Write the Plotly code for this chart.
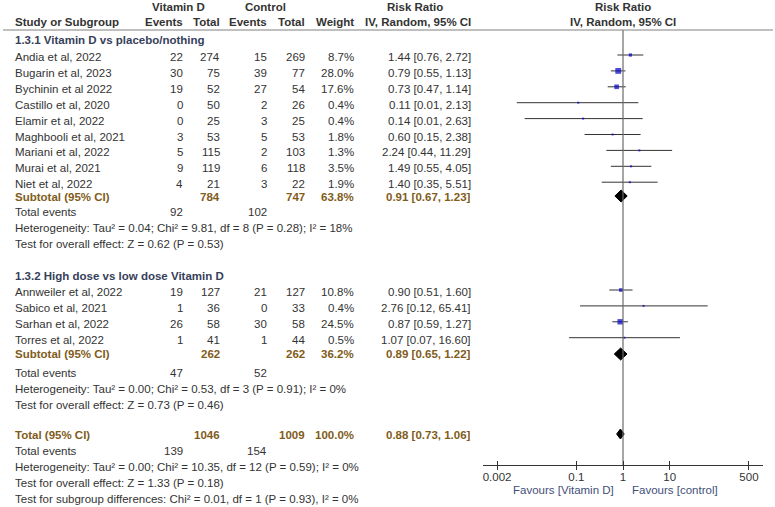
import plotly.graph_objects as go

# ---------------- data ----------------
studies1 = ["Andia et al, 2022", "Bugarin et al, 2023", "Bychinin et al 2022", "Castillo et al, 2020",
            "Elamir et al, 2022", "Maghbooli et al, 2021", "Mariani et al, 2022", "Murai et al, 2021",
            "Niet et al, 2022"]
ev_vd1 = [22, 30, 19, 0, 0, 3, 5, 9, 4]
tot_vd1 = [274, 75, 52, 50, 25, 53, 115, 119, 21]
ev_ct1 = [15, 39, 27, 2, 3, 5, 2, 6, 3]
tot_ct1 = [269, 77, 54, 26, 25, 53, 103, 118, 22]
weight1 = [8.7, 28.0, 17.6, 0.4, 0.4, 1.8, 1.3, 3.5, 1.9]
rr1 = [1.44, 0.79, 0.73, 0.11, 0.14, 0.60, 2.24, 1.49, 1.40]
lo1 = [0.76, 0.55, 0.47, 0.0053, 0.0078, 0.15, 0.44, 0.55, 0.35]
hi1 = [2.72, 1.13, 1.14, 2.13, 2.63, 2.38, 11.29, 4.05, 5.51]

studies2 = ["Annweiler et al, 2022", "Sabico et al, 2021", "Sarhan et al, 2022", "Torres et al, 2022"]
ev_vd2 = [19, 1, 26, 1]
tot_vd2 = [127, 36, 58, 41]
ev_ct2 = [21, 0, 30, 1]
tot_ct2 = [127, 33, 58, 44]
weight2 = [10.8, 0.4, 24.5, 0.5]
rr2 = [0.90, 2.76, 0.87, 1.07]
lo2 = [0.51, 0.12, 0.59, 0.07]
hi2 = [1.60, 65.41, 1.27, 16.60]

group_titles = ["1.3.1 Vitamin D vs placebo/nothing", "1.3.2 High dose vs low dose Vitamin D"]
# subtotal / total: [n_vd, n_ct, weight, rr, lo, hi, events_vd, events_ct]
sub1 = [784, 747, 63.8, 0.91, 0.67, 1.23, 92, 102]
sub2 = [262, 262, 36.2, 0.89, 0.65, 1.22, 47, 52]
total = [1046, 1009, 100.0, 0.88, 0.73, 1.06, 139, 154]
het1 = "Heterogeneity: Tau² = 0.04; Chi² = 9.81, df = 8 (P = 0.28); I² = 18%"
test1 = "Test for overall effect: Z = 0.62 (P = 0.53)"
het2 = "Heterogeneity: Tau² = 0.00; Chi² = 0.53, df = 3 (P = 0.91); I² = 0%"
test2 = "Test for overall effect: Z = 0.73 (P = 0.46)"
het_t = "Heterogeneity: Tau² = 0.00; Chi² = 10.35, df = 12 (P = 0.59); I² = 0%"
test_t = "Test for overall effect: Z = 1.33 (P = 0.18)"
test_sub = "Test for subgroup differences: Chi² = 0.01, df = 1 (P = 0.93), I² = 0%"

tick_vals = [0.002, 0.1, 1, 10, 500]
tick_text = ["0.002", "0.1", "1", "10", "500"]
favours = ["Favours [Vitamin D]", "Favours [control]"]

# ---------------- style / layout ----------------
W, H = 775, 507
FONT = "Liberation Sans, Arial, sans-serif"
FS = 11.5
TXT = "#333333"
TITLE_C = "#36405a"
SUB_C = "#7f5c1a"
FAV_C = "#3f4f7a"
BOX_C = "#0000c8"

X_STUDY, X_EV1, X_TOT1, X_EV2, X_TOT2, X_W, X_RR, X_PLOT = 13, 185, 222, 269, 307, 356, 473, 623
AXIS_Y = 465
LINE_Y = 30

fig = go.Figure()


def ann(x, y, text, anchor="left", color=TXT, bold=False, xref="x2", xshift=0):
    fig.add_annotation(x=x, y=y, xref=xref, yref="y", text=f"<b>{text}</b>" if bold else text,
                       xanchor=anchor, yanchor="middle", showarrow=False, xshift=xshift,
                       font=dict(family=FONT, size=FS, color=color))


def rr_text(r, lo, hi):
    return f"{r:.2f} [{lo:.2f}, {hi:.2f}]"


# headers
ann(178, 7, "Vitamin D", "center", bold=True)
ann(265, 7, "Control", "center", bold=True)
ann(415, 7, "Risk Ratio", "center", bold=True)
ann(X_PLOT, 7, "Risk Ratio", "center", bold=True)
ann(X_STUDY, 22, "Study or Subgroup", bold=True)
ann(X_EV1, 22, "Events", "right", bold=True)
ann(X_TOT1, 22, "Total", "right", bold=True)
ann(X_EV2, 22, "Events", "right", bold=True)
ann(X_TOT2, 22, "Total", "right", bold=True)
ann(X_W, 22, "Weight", "right", bold=True)
ann(X_RR, 22, "IV, Random, 95% CI", "right", bold=True)
ann(X_PLOT, 22, "IV, Random, 95% CI", "center", bold=True)

# header rule
fig.add_trace(go.Scatter(x=[3, 773], y=[LINE_Y, LINE_Y], xaxis="x2", yaxis="y", mode="lines",
                         line=dict(color="#808080", width=1), hoverinfo="skip", showlegend=False))


def study_rows(names, ev_a, tot_a, ev_b, tot_b, wts, rrs, los, his, y0):
    ys = []
    for i, name in enumerate(names):
        y = y0 + 15.9 * i
        ys.append(y - 2)
        ann(X_STUDY, y, name)
        ann(X_EV1, y, str(ev_a[i]), "right")
        ann(X_TOT1, y, str(tot_a[i]), "right")
        ann(X_EV2, y, str(ev_b[i]), "right")
        ann(X_TOT2, y, str(tot_b[i]), "right")
        ann(X_W, y, f"{wts[i]:.1f}%", "right")
        ann(X_RR, y, rr_text(rrs[i], los[i], his[i]), "right")
    # CI lines
    lx, ly = [], []
    for i, y in enumerate(ys):
        lx += [los[i], his[i], None]
        ly += [y, y, None]
    fig.add_trace(go.Scatter(x=lx, y=ly, xaxis="x", yaxis="y", mode="lines",
                             line=dict(color="#333333", width=1), hoverinfo="skip", showlegend=False))
    fig.add_trace(go.Scatter(x=rrs, y=ys, xaxis="x", yaxis="y", mode="markers",
                             marker=dict(symbol="square", color=BOX_C,
                                         size=[max(2.0, 1.1 * w ** 0.5) for w in wts], line=dict(width=0)),
                             hoverinfo="skip", showlegend=False))


def summary_row(label, s, y, ydiam, half_h, events_y=None):
    ann(X_STUDY, y, label, color=SUB_C, bold=True)
    ann(X_TOT1, y, str(s[0]), "right", color=SUB_C, bold=True)
    ann(X_TOT2, y, str(s[1]), "right", color=SUB_C, bold=True)
    ann(X_W, y, f"{s[2]:.1f}%", "right", color=SUB_C, bold=True)
    ann(X_RR, y, rr_text(s[3], s[4], s[5]), "right", color=SUB_C, bold=True)
    fig.add_trace(go.Scatter(x=[s[4], s[3], s[5], s[3], s[4]],
                             y=[ydiam, ydiam - half_h, ydiam, ydiam + half_h, ydiam],
                             xaxis="x", yaxis="y", mode="lines", fill="toself", fillcolor="#000000",
                             line=dict(color="#000000", width=1), hoverinfo="skip", showlegend=False))
    if events_y is not None:
        ann(X_STUDY, events_y, "Total events")
        ann(X_EV1, events_y, str(s[6]), "right")
        ann(X_EV2, events_y, str(s[7]), "right")


# group 1
ann(X_STUDY, 40, group_titles[0], color=TITLE_C, bold=True)
study_rows(studies1, ev_vd1, tot_vd1, ev_ct1, tot_ct1, weight1, rr1, lo1, hi1, 57)
summary_row("Subtotal (95% CI)", sub1, 197, 196, 6, events_y=212)
ann(X_STUDY, 228, het1)
ann(X_STUDY, 244, test1)

# group 2
ann(X_STUDY, 276, group_titles[1], color=TITLE_C, bold=True)
study_rows(studies2, ev_vd2, tot_vd2, ev_ct2, tot_ct2, weight2, rr2, lo2, hi2, 292)
summary_row("Subtotal (95% CI)", sub2, 354, 354, 6, events_y=373)
ann(X_STUDY, 389, het2)
ann(X_STUDY, 405, test2)

# total
summary_row("Total (95% CI)", total, 435, 434, 5, events_y=451)
ann(X_STUDY, 467, het_t)
ann(X_STUDY, 483, test_t)
ann(X_STUDY, 499, test_sub)

# line of no effect
fig.add_trace(go.Scatter(x=[1, 1], y=[LINE_Y, AXIS_Y], xaxis="x", yaxis="y", mode="lines",
                         line=dict(color="#6a6a6a", width=1.2), hoverinfo="skip", showlegend=False))

# favours labels (annotation x on a log axis is given as log10 value: 0 -> RR = 1)
ann(0, 490, favours[0], "right", color=FAV_C, xref="x", xshift=-7)
ann(0, 490, favours[1], "left", color=FAV_C, xref="x", xshift=7)

axis_pos = 1 - AXIS_Y / H
dom = [483 / W, 763 / W]
fig.update_layout(
    width=W, height=H, margin=dict(l=0, r=0, t=0, b=0),
    paper_bgcolor="white", plot_bgcolor="rgba(0,0,0,0)",
    showlegend=False,
    xaxis=dict(type="log", range=[-3, 3], domain=dom, anchor="free", position=axis_pos,
               showline=True, linecolor="#333333", linewidth=1, ticks="outside", ticklen=4,
               tickcolor="#333333", tickvals=tick_vals, ticktext=tick_text, showgrid=False,
               zeroline=False, tickfont=dict(family=FONT, size=FS, color=TXT), fixedrange=True,
               ticklabelstandoff=-3),
    xaxis3=dict(type="log", range=[-3, 3], overlaying="x", anchor="free", position=axis_pos,
                showline=False, ticks="inside", ticklen=4, tickcolor="#333333", tickvals=tick_vals,
                showticklabels=False, showgrid=False, zeroline=False, fixedrange=True),
    xaxis2=dict(range=[0, W], domain=[0, 1], anchor="y", visible=False, fixedrange=True),
    yaxis=dict(range=[H, 0], domain=[0, 1], visible=False, fixedrange=True),
)
# invisible anchor trace so xaxis3 is rendered
fig.add_trace(go.Scatter(x=[1], y=[-50], xaxis="x3", yaxis="y", mode="markers",
                         marker=dict(opacity=0), hoverinfo="skip", showlegend=False))

fig.write_html("out.html", config={"displayModeBar": False},
               post_script="document.body.style.margin='0';document.body.style.overflow='hidden';")
